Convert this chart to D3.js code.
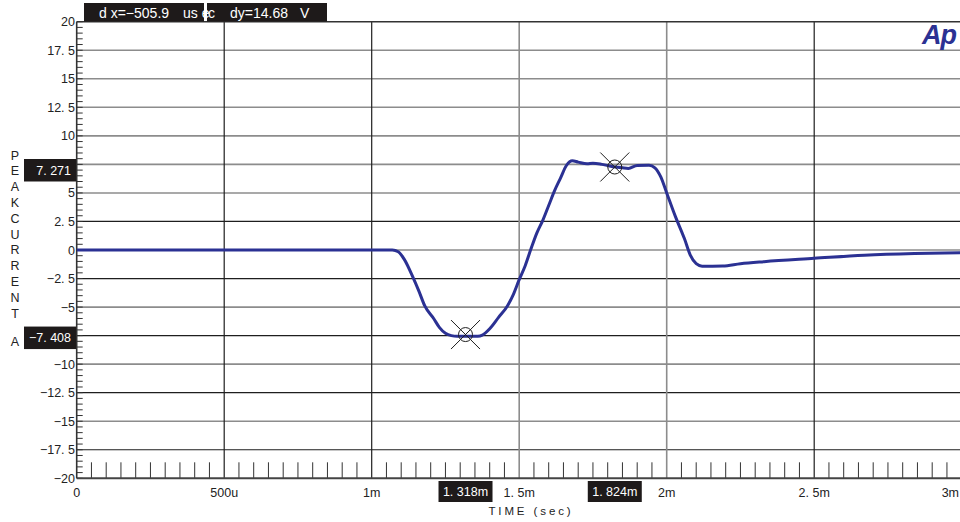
<!DOCTYPE html>
<html>
<head>
<meta charset="utf-8">
<script src="https://cdn.jsdelivr.net/npm/d3@7"></script>
<style>
  html, body { margin: 0; padding: 0; background: #fff; }
  svg { display: block; font-family: "Liberation Sans", Arial, sans-serif; }
</style>
</head>
<body>
<svg id="chart" width="960" height="522"></svg>
<script>
// ---- data (time in ms, current in A) ----
const timeMs = [0, 1.00, 1.07, 1.09, 1.11, 1.14, 1.16, 1.18, 1.21, 1.23, 1.25, 1.27, 1.29, 1.31, 1.34, 1.36, 1.375,
  1.40, 1.43, 1.46, 1.48, 1.50, 1.52, 1.54, 1.56, 1.58, 1.60, 1.62, 1.64, 1.66, 1.68, 1.70, 1.73, 1.75, 1.78,
  1.80, 1.82, 1.85, 1.87, 1.90, 1.94, 1.96, 1.98, 2.00, 2.03, 2.06, 2.08, 2.10, 2.12, 2.19, 2.25, 2.33, 2.50,
  2.67, 2.84, 3.0];
const current = [0, 0, 0, -0.15, -0.8, -2.4, -3.6, -4.9, -6.0, -6.8, -7.3, -7.5, -7.55, -7.55, -7.55, -7.55, -7.45,
  -6.9, -5.9, -4.9, -3.9, -2.6, -1.4, 0.1, 1.5, 2.6, 3.9, 5.2, 6.3, 7.4, 7.82, 7.7, 7.55, 7.6, 7.5,
  7.4, 7.3, 7.2, 7.15, 7.4, 7.42, 7.2, 6.4, 5.0, 2.9, 1.0, -0.45, -1.2, -1.42, -1.4, -1.2, -1.02, -0.73,
  -0.45, -0.3, -0.23];

const yTickValues = [20, 17.5, 15, 12.5, 10, 7.5, 5, 2.5, 0, -2.5, -5, -7.5, -10, -12.5, -15, -17.5, -20];
const yTickLabels = ["20", "17. 5", "15", "12. 5", "10", "7. 5", "5", "2. 5", "0", "\u22122. 5", "\u22125", "\u22127. 5",
  "\u221210", "\u221212. 5", "\u221215", "\u221217. 5", "\u221220"];
const yGridDark = [2.5, -2.5, -7.5, -12.5, -17.5];
const xTickValues = [0, 0.5, 1, 1.5, 2, 2.5, 3];
const xTickLabels = ["0", "500u", "1m", "1. 5m", "2m", "2. 5m", "3m"];
const xGridDark = [0.5, 1, 2.5];

const cursorX = [1.318, 1.824];
const cursorY = [-7.408, 7.271];
const cursorXLabels = ["1. 318m", "1. 824m"];
const cursorYLabels = ["\u22127. 408", "7. 271"];
const headerParts = ["d x=\u2212505.9", "us e", "c", "dy=14.68", "V"];
const yTitle = ["P", "E", "A", "K", "C", "U", "R", "R", "E", "N", "T"];
const yUnit = "A";
const xTitle = "TIME (sec)";

// ---- layout ----
const svg = d3.select("#chart");
const pL = 76.7, pT = 21.7, pB = 478.3, pR = 961.7;
const x = d3.scaleLinear().domain([0, 3]).range([pL, pR]);
const y = d3.scaleLinear().domain([-20, 20]).range([pB, pT]);

const gray = "#8c8c8c", dark = "#1e1e1e", blue = "#2b3193", boxFill = "#1e1a1a";

// horizontal gridlines
svg.append("g").selectAll("line").data(yTickValues.filter(v => v > -20 && v < 20)).join("line")
  .attr("x1", pL).attr("x2", 960)
  .attr("y1", d => y(d)).attr("y2", d => y(d))
  .attr("stroke", d => yGridDark.includes(d) ? dark : gray)
  .attr("stroke-width", d => yGridDark.includes(d) ? 1.2 : 1.6);

// vertical gridlines
svg.append("g").selectAll("line").data(xTickValues.filter(v => v > 0 && v < 3)).join("line")
  .attr("x1", d => x(d)).attr("x2", d => x(d))
  .attr("y1", pT).attr("y2", pB)
  .attr("stroke", d => xGridDark.includes(d) ? dark : gray)
  .attr("stroke-width", d => xGridDark.includes(d) ? 1.2 : 1.6);

// minor y ticks
const yMinor = d3.range(-20, 20.001, 0.5);
svg.append("g").selectAll("line").data(yMinor).join("line")
  .attr("x1", pL).attr("x2", pL + 6)
  .attr("y1", d => y(d)).attr("y2", d => y(d))
  .attr("stroke", "#333").attr("stroke-width", 1);

// minor x ticks
const xMinor = d3.range(0.05, 3, 0.05).filter(v => Math.abs(v * 2 - Math.round(v * 2)) > 1e-6);
svg.append("g").selectAll("line").data(xMinor).join("line")
  .attr("x1", d => x(d)).attr("x2", d => x(d))
  .attr("y1", pB - 16).attr("y2", pB)
  .attr("stroke", "#333").attr("stroke-width", 1);

// frame lines
svg.append("line").attr("x1", pL).attr("x2", 960).attr("y1", pT).attr("y2", pT)
  .attr("stroke", "#333").attr("stroke-width", 1.5);
svg.append("line").attr("x1", pL).attr("x2", 960).attr("y1", pB).attr("y2", pB)
  .attr("stroke", "#444").attr("stroke-width", 2);
svg.append("line").attr("x1", pL).attr("x2", pL).attr("y1", pT).attr("y2", pB)
  .attr("stroke", "#333").attr("stroke-width", 1.6);

// y tick labels (those under a cursor readout box are hidden, as in the reference)
const hidden = v => cursorY.some(c => Math.abs(y(v) - (y(c) + 3)) < 12);
svg.append("g").selectAll("text").data(yTickValues.map((v, i) => [v, yTickLabels[i]]).filter(d => !hidden(d[0])))
  .join("text")
  .attr("x", 75).attr("y", d => y(d[0]) + 4.5)
  .attr("text-anchor", "end").attr("font-size", 12.5).attr("fill", "#222")
  .text(d => d[1]);

// x tick labels
svg.append("g").selectAll("text").data(xTickValues).join("text")
  .attr("x", d => d === 3 ? 959 : x(d)).attr("y", 497)
  .attr("text-anchor", d => d === 3 ? "end" : "middle").attr("font-size", 12.5).attr("fill", "#222")
  .text((d, i) => xTickLabels[i]);

// curve
svg.append("clipPath").attr("id", "clip").append("rect")
  .attr("x", pL).attr("y", pT).attr("width", 960 - pL).attr("height", pB - pT);
const line = d3.line().x((d, i) => x(timeMs[i])).y(d => y(d)).curve(d3.curveMonotoneX);
svg.append("path").datum(current).attr("d", line).attr("clip-path", "url(#clip)")
  .attr("fill", "none").attr("stroke", blue).attr("stroke-width", 3).attr("stroke-linejoin", "round");

// cursor markers
const mk = svg.append("g");
cursorX.forEach((cx, i) => {
  const px = x(cx), py = y(cursorY[i]);
  mk.append("circle").attr("cx", px).attr("cy", py).attr("r", 7)
    .attr("fill", "none").attr("stroke", dark).attr("stroke-width", 1);
  mk.append("line").attr("x1", px - 14.5).attr("y1", py - 14.5).attr("x2", px + 14.5).attr("y2", py + 14.5)
    .attr("stroke", dark).attr("stroke-width", 1);
  mk.append("line").attr("x1", px - 14.5).attr("y1", py + 14.5).attr("x2", px + 14.5).attr("y2", py - 14.5)
    .attr("stroke", dark).attr("stroke-width", 1);
  // x readout box
  mk.append("rect").attr("x", px - 27).attr("y", 481).attr("width", 54).attr("height", 21).attr("fill", boxFill);
  mk.append("text").attr("x", px).attr("y", 496).attr("text-anchor", "middle")
    .attr("font-size", 12.5).attr("fill", "#fff").text(cursorXLabels[i]);
  // y readout box
  mk.append("rect").attr("x", 24).attr("y", py - 8).attr("width", 52).attr("height", 22.5).attr("fill", boxFill);
  mk.append("text").attr("x", 71).attr("y", py + 7.5).attr("text-anchor", "end")
    .attr("font-size", 12.5).attr("fill", "#fff").text(cursorYLabels[i]);
});

// header readout
svg.append("rect").attr("x", 84).attr("y", 3).attr("width", 120).attr("height", 18.5).attr("fill", boxFill);
svg.append("rect").attr("x", 207).attr("y", 3).attr("width", 120).attr("height", 18.5).attr("fill", boxFill);
const headerX = [99, 183, 208, 230, 300];
svg.append("g").selectAll("text").data(headerParts).join("text")
  .attr("x", (d, i) => headerX[i]).attr("y", 18).attr("font-size", 14).attr("fill", "#fff")
  .text(d => d);

// y title (stacked letters)
svg.append("g").selectAll("text").data(yTitle).join("text")
  .attr("x", 15).attr("y", (d, i) => 155 + i * 15.83 + 4.5)
  .attr("text-anchor", "middle").attr("font-size", 12.5).attr("fill", "#222")
  .text(d => d);
svg.append("text").attr("x", 15).attr("y", 346).attr("text-anchor", "middle")
  .attr("font-size", 12.5).attr("fill", "#222").text(yUnit);

// x title
svg.append("text").attr("x", 531).attr("y", 515).attr("text-anchor", "middle")
  .attr("font-size", 11.5).attr("letter-spacing", "2.9px").attr("fill", "#222").text(xTitle);

// logo
svg.append("text").attr("x", 922).attr("y", 44).attr("font-size", 27).attr("font-weight", "bold")
  .attr("font-style", "italic").attr("fill", blue).attr("letter-spacing", "-1px").text("Ap");
</script>
</body>
</html>
